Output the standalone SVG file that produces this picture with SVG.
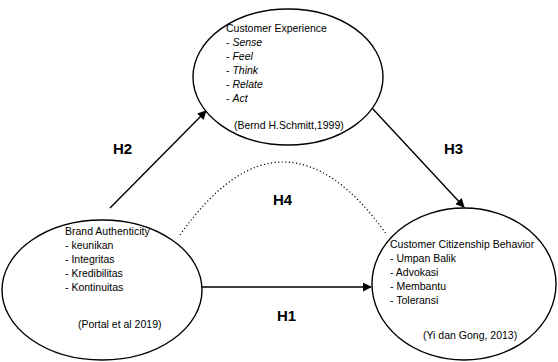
<svg xmlns="http://www.w3.org/2000/svg" width="558" height="362" viewBox="0 0 558 362">
<defs>
<style>
.node{fill:#fff;stroke:#000;stroke-width:1.4}
.t{font-family:"Liberation Sans",Arial,sans-serif;font-size:10.5px;fill:#000}
.i{font-style:italic}
.h{font-family:"Liberation Sans",Arial,sans-serif;font-size:15px;font-weight:bold;fill:#000}
.ln{stroke:#000;stroke-width:1.4;fill:none}
.dot{stroke:#000;stroke-width:1.2;fill:none;stroke-dasharray:1.2 2.4}
</style>
<marker id="ah" viewBox="0 0 10 10" refX="9" refY="5" markerWidth="9" markerHeight="9" markerUnits="userSpaceOnUse" orient="auto">
<path d="M0,0 L10,5 L0,10 z" fill="#000"/>
</marker>
</defs>
<rect width="558" height="362" fill="#fff"/>
<g id="connectors">
<line class="ln" x1="110" y1="208" x2="206" y2="111" marker-end="url(#ah)"/>
<line class="ln" x1="372" y1="108" x2="464" y2="207" marker-end="url(#ah)"/>
<line class="ln" x1="198" y1="287" x2="371" y2="287" marker-end="url(#ah)"/>
<path class="dot" d="M180,235 Q283,89 387,235"/>
</g>
<g id="customer-experience">
<ellipse class="node" cx="288" cy="77" rx="95" ry="68"/>
<text class="t" x="226" y="32">Customer Experience</text>
<text class="t" x="226" y="46">- <tspan class="i">Sense</tspan></text>
<text class="t" x="226" y="60">- <tspan class="i">Feel</tspan></text>
<text class="t" x="226" y="74">- <tspan class="i">Think</tspan></text>
<text class="t" x="226" y="88">- <tspan class="i">Relate</tspan></text>
<text class="t" x="226" y="102">- <tspan class="i">Act</tspan></text>
<text class="t" x="234" y="129">(Bernd H.Schmitt,1999)</text>
</g>
<g id="brand-authenticity">
<ellipse class="node" cx="102" cy="290" rx="100" ry="70"/>
<text class="t" x="65" y="235">Brand Authenticity</text>
<text class="t" x="65" y="249">- keunikan</text>
<text class="t" x="65" y="263">- Integritas</text>
<text class="t" x="65" y="277">- Kredibilitas</text>
<text class="t" x="65" y="291">- Kontinuitas</text>
<text class="t" x="78" y="328">(Portal et al 2019)</text>
</g>
<g id="customer-citizenship-behavior">
<ellipse class="node" cx="464" cy="284" rx="92" ry="76"/>
<text class="t" x="390" y="248">Customer Citizenship Behavior</text>
<text class="t" x="390" y="262">- Umpan Balik</text>
<text class="t" x="390" y="276">- Advokasi</text>
<text class="t" x="390" y="290">- Membantu</text>
<text class="t" x="390" y="304">- Toleransi</text>
<text class="t" x="423" y="339">(Yi dan Gong, 2013)</text>
</g>
<g id="labels">
<text class="h" x="113" y="154">H2</text>
<text class="h" x="444" y="154">H3</text>
<text class="h" x="273" y="205">H4</text>
<text class="h" x="277" y="321">H1</text>
</g>
</svg>
